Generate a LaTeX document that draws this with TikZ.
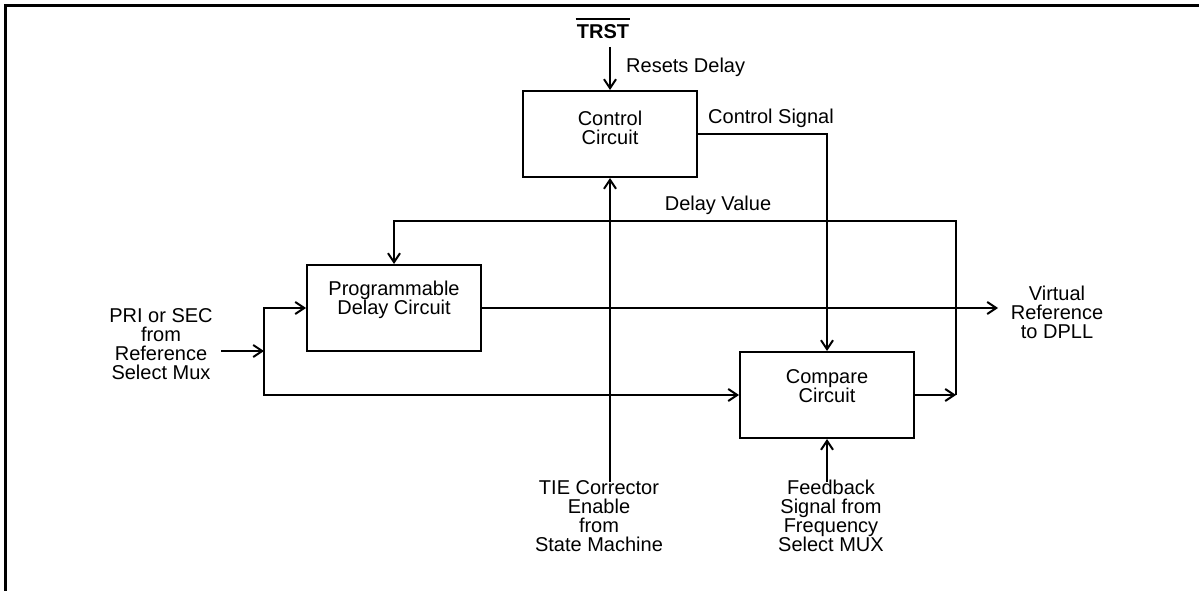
\documentclass[tikz,border=0pt]{standalone}
\usepackage{fontspec}
\setmainfont{Liberation Sans}
\usetikzlibrary{arrows.meta}
\begin{document}
\begin{tikzpicture}[x=1pt,y=-1pt,
 box/.style={draw,line width=2pt,minimum width=174pt,minimum height=86pt,inner sep=0pt},
 txt/.style={font=\fontsize{20}{19}\selectfont,align=center,inner sep=0pt},
 btxt/.style={font=\fontsize{20}{19}\selectfont\bfseries,inner sep=0pt},
 wire/.style={line width=2pt},
 arr/.style={wire,-{Straight Barb[length=9pt,width=12pt]}}]
\useasboundingbox (0,0) rectangle (1199,591);
\draw[line width=3pt] (5.5,600) -- (5.5,5.5) -- (1210,5.5);
% boxes
\node[box] (ctrl) at (610,134) {};
\node[txt] (ctrlt) at (610,127.5) {Control\\Circuit};
\node[box] (prog) at (394,308) {};
\node[txt] (progt) at (394,300) {Programmable\\Delay Circuit};
\node[box] (cmp) at (827,395) {};
\node[txt] (cmpt) at (827,386) {Compare\\Circuit};
% TRST
\node[btxt] (trst) at (603,32) {TRST};
\draw[line width=2pt] ([yshift=6pt,xshift=-1pt]trst.north west) -- ([yshift=6pt,xshift=1pt]trst.north east);
\coordinate (trstS) at (610,47);
\draw[arr] (trstS) -- (trstS |- ctrl.north);
\node[txt,anchor=west] (resets) at (626,67) {Resets Delay};
% control signal
\node[txt,anchor=west] (ctrlsig) at (708,118) {Control Signal};
\draw[arr] (ctrl.east) -| (cmp.north);
% delay value feedback
\node[txt] (dval) at (718,205) {Delay Value};
\coordinate (dvR) at (956,395);
\coordinate (dvTop) at (956,221);
\draw[arr] (cmp.east) -- (dvR);
\draw[arr] (dvR) -- (dvTop) -| (prog.north);
% virtual reference
\coordinate (vref) at (998,308);
\draw[arr] (prog.east) -- (vref);
\node[txt] (vreft) at (1057,312.5) {Virtual\\Reference\\to DPLL};
% input
\node[txt] (pri) at (161,344.5) {PRI or SEC\\from\\Reference\\Select Mux};
\coordinate (inS) at (221,351);
\coordinate (jn) at (264,351);
\coordinate (jnT) at (264,308);
\coordinate (jnB) at (264,395);
\draw[arr] (inS) -- (jn);
\draw[arr] (jnB) |- (prog.west);
\draw[arr] (jnT) |- (cmp.west);
% TIE
\node[txt] (tie) at (599,516) {TIE Corrector\\Enable\\from\\State Machine};
\coordinate (tieN) at (610,482);
\draw[arr] (tieN) -- (tieN |- ctrl.south);
% feedback
\node[txt] (fb) at (831,516) {Feedback\\Signal from\\Frequency\\Select MUX};
\coordinate (fbN) at (827,482);
\draw[arr] (fbN) -- (fbN |- cmp.south);
\end{tikzpicture}
\end{document}
